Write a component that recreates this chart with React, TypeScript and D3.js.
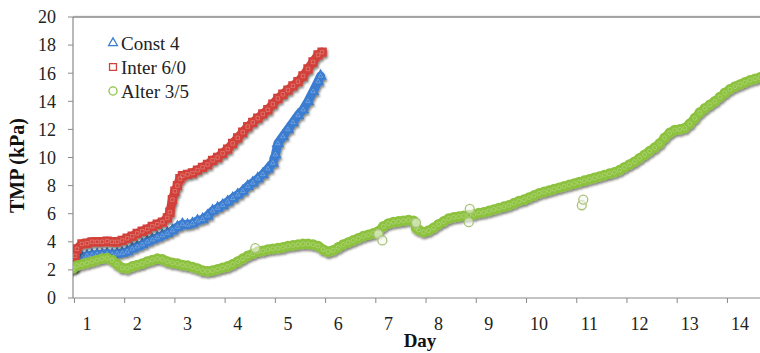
import React from 'react';
import * as d3 from 'd3';

// Const 4 (blue triangles)
const constDays = [0.72, 0.8, 0.9, 1.0, 1.1, 1.2, 1.3, 1.4, 1.5, 1.6, 1.7, 1.8, 1.9, 2.0, 2.1, 2.2, 2.3, 2.4, 2.5, 2.6, 2.7, 2.8, 2.9, 3.0, 3.1, 3.2, 3.3, 3.4, 3.5, 3.6, 3.7, 3.8, 3.9, 4.0, 4.1, 4.2, 4.3, 4.4, 4.5, 4.6, 4.7, 4.75, 4.8, 4.9, 5.0, 5.1, 5.2, 5.3, 5.4, 5.5, 5.6, 5.65];
const constTmp = [2.2, 2.6, 2.9, 3.0, 3.05, 3.1, 3.1, 3.15, 3.1, 3.15, 3.2, 3.3, 3.5, 3.65, 3.8, 4.0, 4.15, 4.3, 4.45, 4.6, 4.8, 5.05, 5.25, 5.2, 5.3, 5.5, 5.6, 5.85, 6.2, 6.4, 6.6, 6.85, 7.1, 7.35, 7.6, 7.95, 8.2, 8.5, 8.8, 9.2, 9.6, 10.2, 11.0, 11.5, 12.0, 12.5, 13.0, 13.4, 14.0, 14.7, 15.4, 15.8];

// Inter 6/0 (red squares)
const interDays = [0.72, 0.76, 0.8, 0.9, 1.0, 1.1, 1.2, 1.3, 1.4, 1.5, 1.6, 1.7, 1.8, 1.9, 2.0, 2.1, 2.2, 2.3, 2.4, 2.5, 2.6, 2.65, 2.7, 2.75, 2.8, 2.85, 2.9, 3.0, 3.1, 3.2, 3.3, 3.4, 3.5, 3.6, 3.7, 3.8, 3.9, 4.0, 4.1, 4.2, 4.3, 4.4, 4.5, 4.6, 4.7, 4.8, 4.9, 5.0, 5.1, 5.2, 5.3, 5.4, 5.5, 5.6, 5.68];
const interTmp = [2.2, 3.0, 3.5, 3.85, 3.9, 4.0, 4.0, 4.0, 4.05, 4.0, 4.0, 4.1, 4.25, 4.4, 4.6, 4.75, 4.9, 5.1, 5.25, 5.4, 5.7, 6.1, 7.0, 7.6, 8.0, 8.5, 8.7, 8.8, 8.9, 9.1, 9.3, 9.5, 9.8, 10.0, 10.3, 10.6, 11.0, 11.4, 11.8, 12.2, 12.5, 12.8, 13.1, 13.4, 13.8, 14.2, 14.5, 14.8, 15.1, 15.4, 15.8, 16.3, 16.8, 17.3, 17.5];

// Alter 3/5 (green circles)
const alterDays = [0.72, 0.8, 0.9, 1.0, 1.1, 1.2, 1.3, 1.4, 1.5, 1.6, 1.7, 1.8, 1.9, 2.0, 2.1, 2.2, 2.3, 2.4, 2.5, 2.6, 2.7, 2.8, 2.9, 3.0, 3.1, 3.2, 3.3, 3.4, 3.5, 3.6, 3.7, 3.8, 3.9, 4.0, 4.1, 4.2, 4.3, 4.4, 4.5, 4.6, 4.7, 4.8, 4.9, 5.0, 5.1, 5.2, 5.3, 5.4, 5.5, 5.6, 5.7, 5.8, 5.9, 6.0, 6.1, 6.2, 6.3, 6.4, 6.5, 6.6, 6.7, 6.8, 6.9, 7.0, 7.1, 7.2, 7.3, 7.4, 7.5, 7.55, 7.6, 7.7, 7.8, 7.9, 8.0, 8.1, 8.2, 8.3, 8.4, 8.5, 8.6, 8.7, 8.8, 8.9, 9.0, 9.1, 9.2, 9.3, 9.4, 9.5, 9.6, 9.7, 9.8, 9.9, 10.0, 10.1, 10.2, 10.3, 10.4, 10.5, 10.6, 10.7, 10.8, 10.9, 11.0, 11.1, 11.2, 11.3, 11.4, 11.5, 11.6, 11.7, 11.8, 11.9, 12.0, 12.1, 12.2, 12.3, 12.4, 12.5, 12.6, 12.7, 12.8, 12.9, 13.0, 13.1, 13.2, 13.3, 13.4, 13.5, 13.6, 13.7, 13.8, 13.9, 14.0, 14.1, 14.2, 14.3, 14.4];
const alterTmp = [2.1, 2.3, 2.4, 2.5, 2.6, 2.7, 2.8, 2.85, 2.7, 2.4, 2.15, 2.1, 2.25, 2.35, 2.45, 2.6, 2.7, 2.8, 2.75, 2.6, 2.5, 2.45, 2.35, 2.3, 2.2, 2.1, 1.95, 1.9, 1.95, 2.05, 2.15, 2.25, 2.4, 2.6, 2.8, 3.0, 3.15, 3.3, 3.35, 3.45, 3.5, 3.55, 3.6, 3.7, 3.75, 3.8, 3.85, 3.85, 3.8, 3.7, 3.45, 3.3, 3.4, 3.6, 3.8, 3.95, 4.1, 4.25, 4.4, 4.5, 4.6, 4.75, 5.1, 5.3, 5.4, 5.45, 5.5, 5.55, 5.5, 5.0, 4.85, 4.7, 4.8, 5.0, 5.25, 5.45, 5.65, 5.75, 5.8, 5.85, 5.9, 5.95, 6.05, 6.1, 6.2, 6.3, 6.4, 6.5, 6.6, 6.75, 6.9, 7.0, 7.15, 7.3, 7.45, 7.55, 7.65, 7.75, 7.85, 7.95, 8.05, 8.15, 8.25, 8.35, 8.45, 8.55, 8.65, 8.75, 8.85, 8.95, 9.1, 9.3, 9.5, 9.7, 9.95, 10.2, 10.45, 10.7, 11.0, 11.4, 11.75, 11.95, 12.0, 12.1, 12.4, 12.8, 13.2, 13.5, 13.75, 14.0, 14.3, 14.6, 14.85, 15.05, 15.2, 15.35, 15.5, 15.6, 15.7];
// stray readings off the main band
const alterOutDays = [4.35, 6.8, 6.88, 7.55, 8.6, 8.62, 10.85, 10.88];
const alterOutTmp = [3.55, 4.55, 4.1, 5.35, 5.4, 6.35, 6.6, 7.0];

const dayLabels = [1, 2, 3, 4, 5, 6, 7, 8, 9, 10, 11, 12, 13, 14];
const tmpTicks = [0, 2, 4, 6, 8, 10, 12, 14, 16, 18, 20];

const series = [
  { name: 'Const 4', days: constDays, tmp: constTmp, color: '#3b7dd0', symbol: d3.symbolTriangle, size: 42 },
  { name: 'Inter 6/0', days: interDays, tmp: interTmp, color: '#d2413a', symbol: d3.symbolSquare, size: 60 },
  { name: 'Alter 3/5', days: alterDays, tmp: alterTmp, color: '#8dc23f', symbol: d3.symbolCircle, size: 64 },
];

const W = 760;
const H = 353;
const left = 73;
const top = 17;
const bottom = 298;
const serif = "'Liberation Serif', 'DejaVu Serif', serif";

export default function App() {
  const x = d3.scaleLinear().domain([1, 14]).range([87, 740]);
  const y = d3.scaleLinear().domain([0, 20]).range([bottom, top]);
  const line = d3.line<[number, number]>().x(d => x(d[0])).y(d => y(d[1]));
  const txt = { fontFamily: serif };

  return (
    <svg width={W} height={H} style={{ position: 'absolute', left: 0, top: 0, background: '#fff', fontFamily: serif }}>
      <defs>
        <filter id="shadow" x="-10%" y="-10%" width="120%" height="130%">
          <feDropShadow dx="1" dy="2" stdDeviation="1.2" floodColor="#1e2410" floodOpacity="0.55" />
        </filter>
        <clipPath id="plot">
          <rect x={left} y={top - 2} width={W - left} height={bottom - top + 4} />
        </clipPath>
      </defs>

      {/* plot frame */}
      <line x1={left} x2={W} y1={top - 1} y2={top - 1} stroke="#e2e2e2" strokeWidth={1} />
      <line x1={left} x2={W} y1={top} y2={top} stroke="#8a8a8a" strokeWidth={1.5} />
      <line x1={left} x2={left} y1={top} y2={bottom} stroke="#8a8a8a" strokeWidth={1.2} />
      <line x1={left} x2={W} y1={bottom} y2={bottom} stroke="#8a8a8a" strokeWidth={1.2} />

      {/* y axis */}
      {tmpTicks.map(t => (
        <g key={t}>
          <line x1={left - 5} x2={left} y1={y(t)} y2={y(t)} stroke="#8a8a8a" />
          <text x={56} y={y(t)} dy="0.35em" textAnchor="end" fontSize={18} fill="#222" style={txt}>{t}</text>
        </g>
      ))}
      <text transform={`translate(24,${(top + bottom) / 2 + 8}) rotate(-90)`} textAnchor="middle" fontSize={20} fontWeight="bold" fill="#111" style={txt}>TMP (kPa)</text>

      {/* x axis: tick marks sit a quarter day before each label */}
      {dayLabels.map(d => (
        <g key={d}>
          <line x1={x(d - 0.25)} x2={x(d - 0.25)} y1={bottom} y2={bottom + 5} stroke="#8a8a8a" />
          <text x={x(d)} y={330} textAnchor="middle" fontSize={18} fill="#222" style={txt}>{d}</text>
        </g>
      ))}
      <text x={420} y={347} textAnchor="middle" fontSize={19} fontWeight="bold" fill="#111" style={txt}>Day</text>

      {/* data */}
      <g clipPath="url(#plot)">
        {series.map(s => {
          const pts = s.days.map((d, i) => [d, s.tmp[i]] as [number, number]);
          const sym = d3.symbol().type(s.symbol).size(s.size)();
          return (
            <g key={s.name} filter="url(#shadow)">
              <path d={line(pts) ?? ''} fill="none" stroke={s.color} strokeWidth={9} strokeLinejoin="round" strokeLinecap="round" />
              {pts.map((p, i) => (
                <path key={i} d={sym ?? ''} transform={`translate(${x(p[0])},${y(p[1])})`} fill="none" stroke={s.color} strokeWidth={1.6} />
              ))}
              {pts.map((p, i) => (
                <path key={'h' + i} d={sym ?? ''} transform={`translate(${x(p[0])},${y(p[1])}) scale(0.45)`} fill="none" stroke="#fff" strokeOpacity={0.35} strokeWidth={1.5} />
              ))}
            </g>
          );
        })}
        {alterOutDays.map((d, i) => (
          <circle key={i} cx={x(d)} cy={y(alterOutTmp[i])} r={4.5} fill="#f4f7ee" fillOpacity={0.6} stroke="#a9c27a" strokeWidth={1.3} />
        ))}
      </g>

      {/* legend */}
      {series.map((s, i) => {
        const sym = d3.symbol().type(s.symbol).size(s.size * 0.8)();
        const ly = 43 + i * 24;
        return (
          <g key={s.name}>
            <path d={sym ?? ''} transform={`translate(113,${ly})`} fill="none" stroke={s.color} strokeWidth={1.3} />
            <text x={121} y={ly} dy="0.35em" fontSize={19} fill="#222" style={txt}>{s.name}</text>
          </g>
        );
      })}
    </svg>
  );
}
